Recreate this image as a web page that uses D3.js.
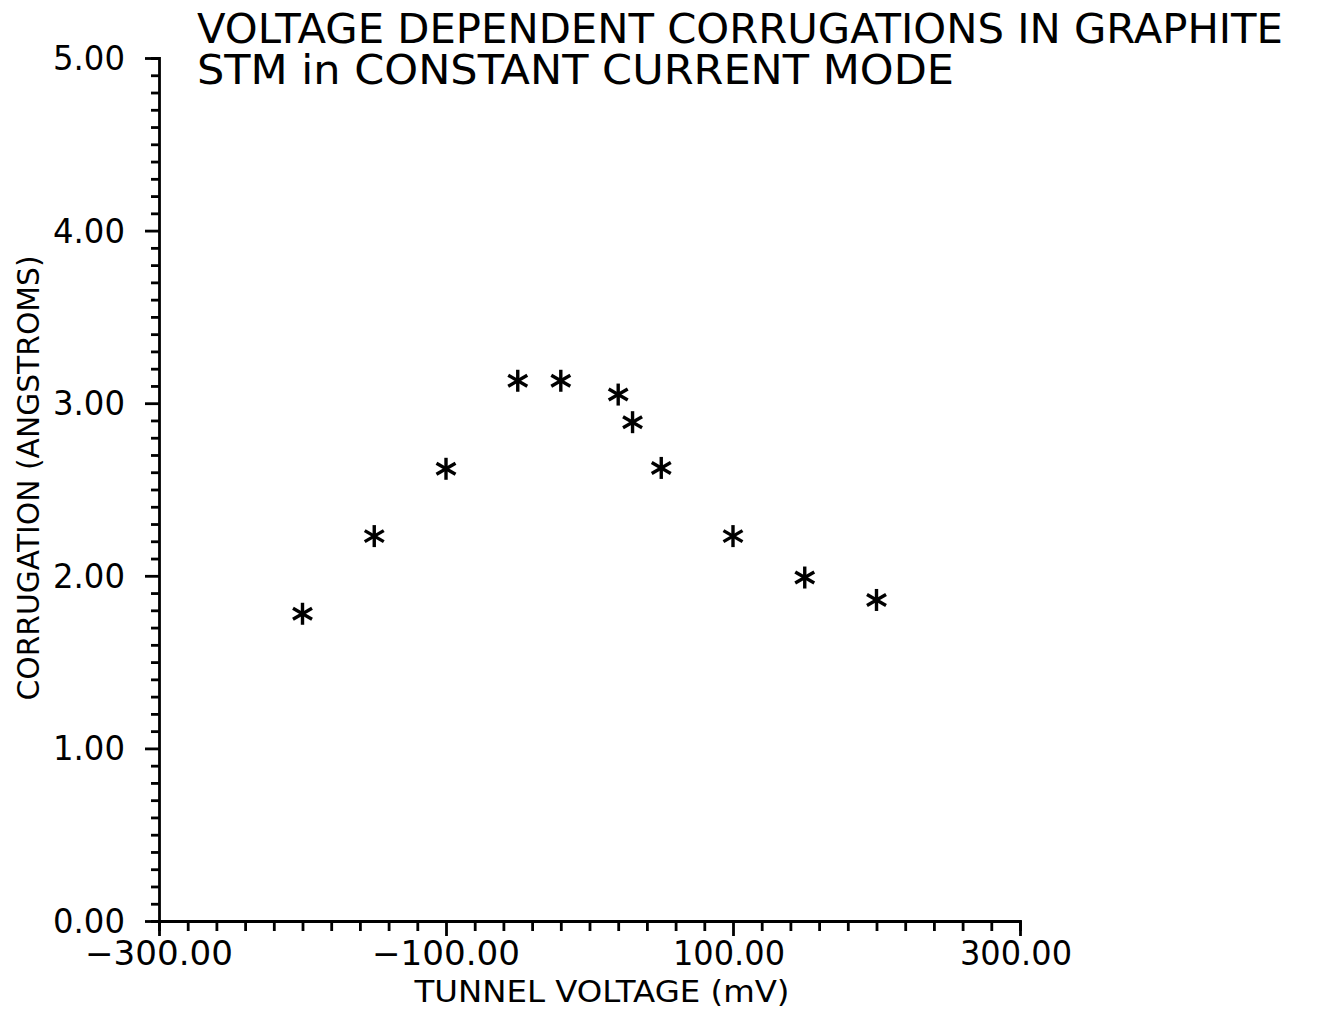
<!DOCTYPE html>
<html>
<head>
<meta charset="utf-8">
<script src="https://cdn.jsdelivr.net/npm/d3@7"></script>
<style>
  body { margin: 0; background: #fff; }
  text { font-family: "DejaVu Sans", sans-serif; fill: #000; }
</style>
</head>
<body>
<svg id="chart"></svg>
<script>
// data
const voltage = [-200, -150, -100, -50, -20, 20, 30, 50, 100, 150, 200];
const corrugation = [1.78, 2.23, 2.62, 3.13, 3.13, 3.05, 2.89, 2.625, 2.23, 1.99, 1.86];
const xTickLabels = [-300, -100, 100, 300];
const yTickLabels = [0, 1, 2, 3, 4, 5];
const titleLines = ["VOLTAGE  DEPENDENT  CORRUGATIONS  IN  GRAPHITE", "STM  in  CONSTANT  CURRENT  MODE"];

const width = 1317, height = 1013;
const margin = { left: 159, right: 297, top: 58, bottom: 92 };

const svg = d3.select("#chart").attr("width", width).attr("height", height);

const x = d3.scaleLinear().domain([-300, 300]).range([margin.left, width - margin.right]);
const y = d3.scaleLinear().domain([0, 5]).range([height - margin.bottom, margin.top]);

// Y axis: minor ticks every 0.1, major every 1
let yAxis = g => g
    .attr("transform", `translate(${margin.left},0)`)
    .call(d3.axisLeft(y).tickValues(d3.range(0, 51).map(d => d / 10)).tickSize(8).tickFormat(""))
    .call(g => g.selectAll(".tick line").attr("stroke-width", 2.8))
    .call(g => g.selectAll(".tick").filter(d => Math.abs(d - Math.round(d)) < 1e-6)
        .select("line").attr("x2", -14))
    .call(g => g.select(".domain").attr("stroke-width", 2.8));

svg.append("g").call(yAxis);

svg.append("g")
    .selectAll("text")
    .data(yTickLabels)
    .join("text")
    .attr("x", margin.left - 34)
    .attr("y", d => y(d) + 12)
    .attr("text-anchor", "end")
    .style("font-size", "33px")
    .attr("textLength", 72)
    .attr("lengthAdjust", "spacingAndGlyphs")
    .text(d => d.toFixed(2));

// X axis: minor ticks every 20 mV, major every 200
let xAxis = g => g
    .attr("transform", `translate(0,${height - margin.bottom})`)
    .call(d3.axisBottom(x).tickValues(d3.range(-300, 301, 20)).tickSize(10).tickFormat(""))
    .call(g => g.selectAll(".tick line").attr("stroke-width", 2.8))
    .call(g => g.selectAll(".tick").filter(d => (d + 300) % 200 === 0)
        .select("line").attr("y2", 15))
    .call(g => g.select(".domain").attr("stroke-width", 2.8));

svg.append("g").call(xAxis);

svg.append("g")
    .selectAll("text")
    .data(xTickLabels)
    .join("text")
    .attr("x", d => x(d) + (d < 0 ? 0 : -4))
    .attr("y", height - margin.bottom + 44)
    .attr("text-anchor", "middle")
    .style("font-size", "33px")
    .attr("textLength", d => d < 0 ? 148 : 112)
    .attr("lengthAdjust", "spacingAndGlyphs")
    .text(d => (d < 0 ? "\u2212" + Math.abs(d).toFixed(2) : d.toFixed(2)));

// Axis titles
svg.append("text")
    .attr("x", 602)
    .attr("y", 1002)
    .attr("text-anchor", "middle")
    .style("font-size", "31px")
    .attr("textLength", 375)
    .attr("lengthAdjust", "spacingAndGlyphs")
    .text("TUNNEL  VOLTAGE  (mV)");

svg.append("text")
    .attr("transform", "translate(39,478) rotate(-90)")
    .attr("text-anchor", "middle")
    .style("font-size", "31px")
    .attr("textLength", 445)
    .attr("lengthAdjust", "spacingAndGlyphs")
    .text("CORRUGATION  (ANGSTROMS)");

// Title
svg.append("g")
    .selectAll("text")
    .data(titleLines)
    .join("text")
    .attr("x", 197)
    .attr("y", (d, i) => 43 + i * 41)
    .style("font-size", "41px")
    .attr("textLength", (d, i) => i === 0 ? 1086 : 757)
    .attr("lengthAdjust", "spacingAndGlyphs")
    .text(d => d);

// Asterisk markers: three strokes through the point
const points = voltage.map((v, i) => ({ v: v, c: corrugation[i] }));
const r = 11;

const star = svg.append("g")
    .selectAll("g")
    .data(points)
    .join("g")
    .attr("transform", d => `translate(${x(d.v)},${y(d.c)})`);

[90, 30, -30].forEach(a => {
    const rad = a * Math.PI / 180;
    star.append("line")
        .attr("x1", -r * Math.cos(rad))
        .attr("y1", -r * Math.sin(rad))
        .attr("x2", r * Math.cos(rad))
        .attr("y2", r * Math.sin(rad))
        .attr("stroke", "#000")
        .attr("stroke-width", 3.4);
});
</script>
</body>
</html>
